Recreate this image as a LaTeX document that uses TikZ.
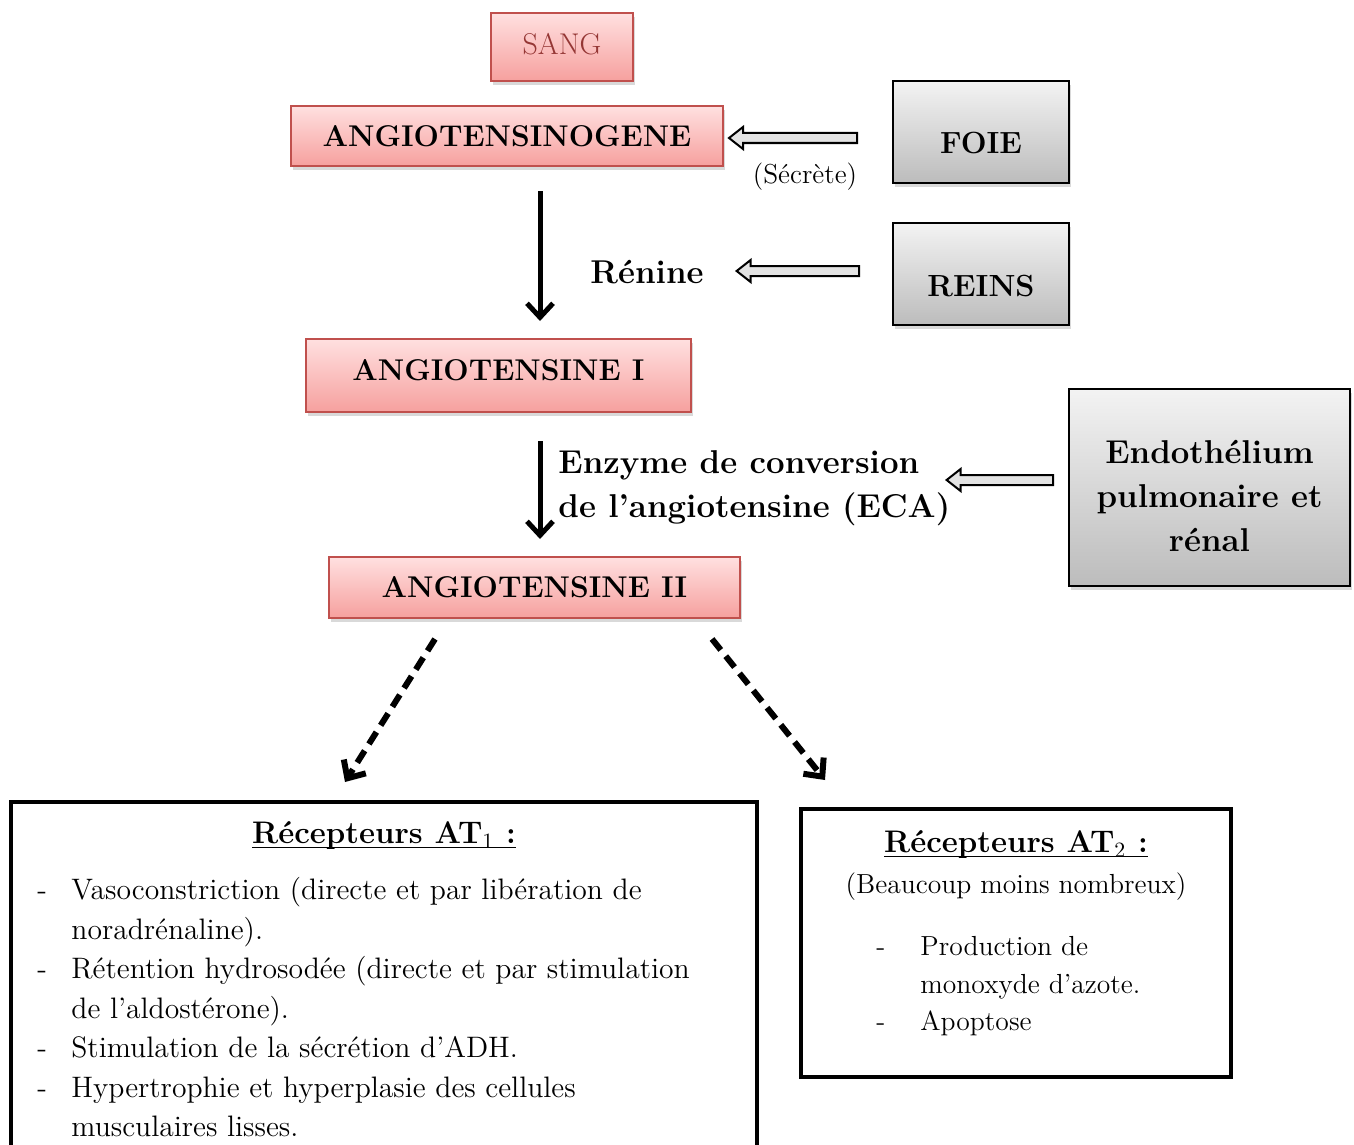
\documentclass[tikz,border=0pt]{standalone}
\usepackage{fontspec}
\usetikzlibrary{positioning, calc, shadows, arrows.meta}

\definecolor{pinktop}{RGB}{255,224,224}
\definecolor{pinkbot}{RGB}{246,160,158}
\definecolor{pinkline}{RGB}{192,80,77}
\definecolor{sangred}{RGB}{149,55,53}
\definecolor{graytop}{RGB}{243,243,243}
\definecolor{graybot}{RGB}{188,188,188}

% trait sous le titre
\newcommand{\ulined}[1]{\setbox0\hbox{#1}\rlap{\rule[-2.2pt]{\wd0}{0.9pt}}\box0}
% texte decale dans sa boite
\newcommand{\shifttext}[2]{\raisebox{-#1}[\height][\depth]{#2}}

\tikzset{
  pinkbox/.style={draw=pinkline, line width=1pt, top color=pinktop, bottom color=pinkbot,
    drop shadow={opacity=0.3, shadow xshift=1pt, shadow yshift=-2pt},
    font=\fontsize{15}{18}\selectfont\bfseries},
  graybox/.style={draw=black, line width=1pt, top color=graytop, bottom color=graybot,
    drop shadow={opacity=0.3, shadow xshift=1pt, shadow yshift=-2pt},
    font=\fontsize{15.3}{18}\selectfont\bfseries},
  recbox/.style={draw, line width=2pt, fill=white},
  mainarrow/.style={line width=2.5pt, -{Straight Barb[length=7pt, width=13pt]}},
  dasharrow/.style={line width=3pt, dash pattern=on 7pt off 4pt,
    -{Straight Barb[length=7pt, width=13pt]}},
  hollow/.style={draw, line width=1pt, fill=gray!22, to path={
    let \p1=(\tikztostart), \p2=(\tikztotarget) in
    (\x1,\y1+2.5pt) -- (\x2+7pt,\y1+2.5pt) -- (\x2+7pt,\y1+5.5pt) -- (\x2,\y1)
    -- (\x2+7pt,\y1-5.5pt) -- (\x2+7pt,\y1-2.5pt) -- (\x1,\y1-2.5pt) -- cycle}},
  boldtext/.style={font=\fontsize{16.5}{22}\selectfont\bfseries},
}

\begin{document}
\begin{tikzpicture}[x=0.5pt, y=-0.5pt]
\useasboundingbox (0,0) rectangle (1354,1145);
\clip (0,0) rectangle (1354,1145);

% cascade
\node (sang) [pinkbox, font=\fontsize{15}{17}\selectfont, text=sangred, minimum width=71pt, minimum height=34pt] at (562,47) {\shifttext{-1.5pt}{SANG}};
\node (angen) [pinkbox, minimum width=216pt, minimum height=30pt] at (507,136) {ANGIOTENSINOGENE};
\node (ang1) [pinkbox, minimum width=192.5pt, minimum height=36.5pt] at (498.5,375.5) {\shifttext{-2.5pt}{ANGIOTENSINE I}};
\node (ang2) [pinkbox, minimum width=205.5pt, minimum height=30.5pt] at (534.5,587.5) {ANGIOTENSINE II};

% organes
\node (foie) [graybox, minimum width=88pt, minimum height=51pt] at (981,132) {\shifttext{5.5pt}{FOIE}};
\node (reins) [graybox, minimum width=88pt, minimum height=51pt] at (981,274) {\shifttext{6pt}{REINS}};
\node (endo) [graybox, boldtext, minimum width=140.5pt, minimum height=98.5pt] at (1209.5,487.5)
  {\shifttext{5.5pt}{\begin{tabular}{@{}c@{}}Endothélium\\pulmonaire et\\rénal\end{tabular}}};

\coordinate (axis) at (540,0);
\draw[mainarrow, shorten <=12pt, shorten >=8.5pt] (angen.south -| axis) -- (ang1.north -| axis);
\draw[mainarrow, shorten <=14pt, shorten >=8.5pt] (ang1.south -| axis) -- (ang2.north -| axis);

\node (renine) [boldtext] at (647,272) {Rénine};
\node (secrete) [font=\fontsize{13.7}{16}\selectfont] at (805,177) {(Sécrète)};
\node (eca) [boldtext, anchor=west, align=left, inner sep=0pt] at (558,488)
  {Enzyme de conversion\\de l’angiotensine (ECA)};

\draw[hollow] ($(foie.west)+(-35,6)$) to ($(angen.east)+(5,2)$);
\draw[hollow] ($(reins.west)+(-33,-3)$) to ($(renine.east)+(26,-1)$);
\draw[hollow] ($(endo.west)+(-15,-7.5)$) to ($(eca.east)+(-4,-6)$);

% recepteurs
\node (at1) [recbox, minimum width=373pt, minimum height=190pt, anchor=north] at (384,800) {};
\node (at2) [recbox, minimum width=215pt, minimum height=134pt] at (1016,943) {};

\draw[dasharrow] ($(ang2.south)+(-99.5,20)$) -- ($(at1.north)+(-39,-18)$);
\draw[dasharrow] ($(ang2.south)+(177.5,20)$) -- ($(at2.north)+(-191,-27)$);

\node (at1t) [font=\fontsize{15.6}{18}\selectfont\bfseries] at ($(at1.north)+(0,36)$)
  {\ulined{Récepteurs AT\textsubscript{\mdseries 1} :}};
\node (at1l) [anchor=north west, align=left, inner sep=0pt, font=\fontsize{14.8}{19.75}\selectfont] at (37,877)
  {\makebox[17pt][l]{-}Vasoconstriction (directe et par libération de\\
   \hspace*{17pt}noradrénaline).\\
   \makebox[17pt][l]{-}Rétention hydrosodée (directe et par stimulation\\
   \hspace*{17pt}de l’aldostérone).\\
   \makebox[17pt][l]{-}Stimulation de la sécrétion d’ADH.\\
   \makebox[17pt][l]{-}Hypertrophie et hyperplasie des cellules\\
   \hspace*{17pt}musculaires lisses.};

\node (at2t) [font=\fontsize{15.6}{18}\selectfont\bfseries] at ($(at2.north)+(0,38)$)
  {\ulined{Récepteurs AT\textsubscript{\mdseries 2} :}};
\node (at2s) [font=\fontsize{13.8}{17}\selectfont] at ($(at2.north)+(0,80)$) {(Beaucoup moins nombreux)};
\node (at2l) [anchor=north west, align=left, inner sep=0pt, font=\fontsize{13.8}{18.75}\selectfont] at (876,936)
  {\makebox[22pt][l]{-}Production de\\
   \hspace*{22pt}monoxyde d’azote.\\
   \makebox[22pt][l]{-}Apoptose};

\end{tikzpicture}
\end{document}
